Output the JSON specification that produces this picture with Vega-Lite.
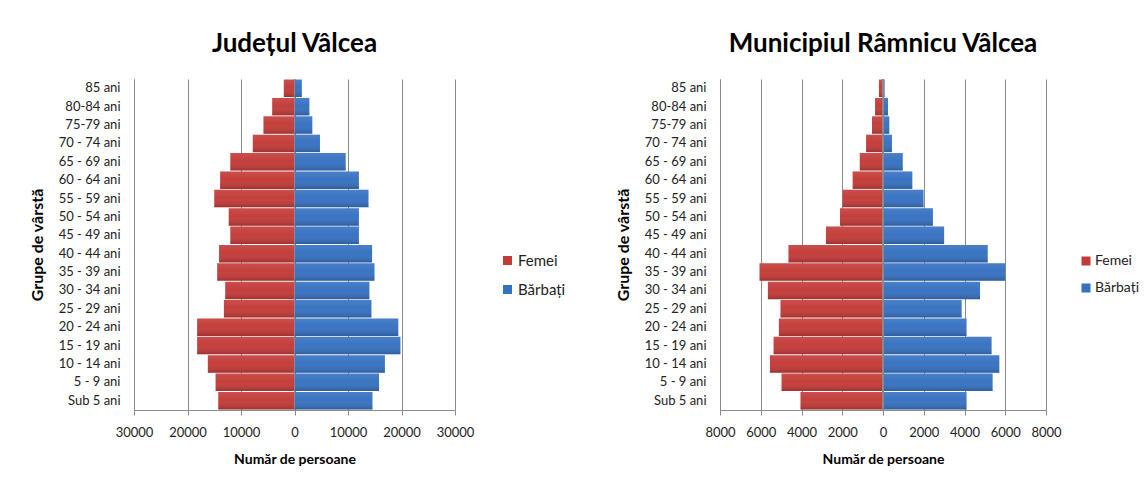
{
  "$schema": "https://vega.github.io/schema/vega-lite/v6.json",
  "background": "white",
  "padding": {"left": 29, "top": 30, "right": 0, "bottom": 0},
  "spacing": 49,
  "config": {
    "font": "Lato",
    "view": {"stroke": null},
    "title": {"font": "Lato", "fontSize": 26, "fontWeight": "bold", "color": "#000000", "anchor": "middle", "offset": 22},
    "axis": {"labelFont": "Lato", "labelColor": "#222222", "titleFont": "Lato", "titleColor": "#000000", "titleFontWeight": "bold", "titleFontSize": 14, "domainColor": "#8a8a8a", "tickColor": "#8a8a8a", "gridColor": "#8a8a8a", "gridOpacity": 1, "labelOverlap": false, "labelFlush": false},
    "legend": {"labelFont": "Lato", "labelFontSize": 15, "labelColor": "#222222", "symbolType": "square", "symbolSize": 81, "symbolStrokeWidth": 0, "rowPadding": 13, "labelOffset": 3}
  },
  "resolve": {"scale": {"color": "independent", "x": "independent"}, "legend": {"color": "independent"}},
  "datasets": {
    "pop": [
      {"region": "J", "age": "85 ani", "sex": "Femei", "value": -2000},
      {"region": "J", "age": "85 ani", "sex": "Bărbați", "value": 1370},
      {"region": "J", "age": "80-84 ani", "sex": "Femei", "value": -4170},
      {"region": "J", "age": "80-84 ani", "sex": "Bărbați", "value": 2780},
      {"region": "J", "age": "75-79 ani", "sex": "Femei", "value": -5800},
      {"region": "J", "age": "75-79 ani", "sex": "Bărbați", "value": 3330},
      {"region": "J", "age": "70 - 74 ani", "sex": "Femei", "value": -7800},
      {"region": "J", "age": "70 - 74 ani", "sex": "Bărbați", "value": 4760},
      {"region": "J", "age": "65 - 69 ani", "sex": "Femei", "value": -12000},
      {"region": "J", "age": "65 - 69 ani", "sex": "Bărbați", "value": 9570},
      {"region": "J", "age": "60 - 64 ani", "sex": "Femei", "value": -13900},
      {"region": "J", "age": "60 - 64 ani", "sex": "Bărbați", "value": 12040},
      {"region": "J", "age": "55 - 59 ani", "sex": "Femei", "value": -15000},
      {"region": "J", "age": "55 - 59 ani", "sex": "Bărbați", "value": 13830},
      {"region": "J", "age": "50 - 54 ani", "sex": "Femei", "value": -12300},
      {"region": "J", "age": "50 - 54 ani", "sex": "Bărbați", "value": 12040},
      {"region": "J", "age": "45 - 49 ani", "sex": "Femei", "value": -12000},
      {"region": "J", "age": "45 - 49 ani", "sex": "Bărbați", "value": 12040},
      {"region": "J", "age": "40 - 44 ani", "sex": "Femei", "value": -14100},
      {"region": "J", "age": "40 - 44 ani", "sex": "Bărbați", "value": 14500},
      {"region": "J", "age": "35 - 39 ani", "sex": "Femei", "value": -14450},
      {"region": "J", "age": "35 - 39 ani", "sex": "Bărbați", "value": 14950},
      {"region": "J", "age": "30 - 34 ani", "sex": "Femei", "value": -12950},
      {"region": "J", "age": "30 - 34 ani", "sex": "Bărbați", "value": 14000},
      {"region": "J", "age": "25 - 29 ani", "sex": "Femei", "value": -13200},
      {"region": "J", "age": "25 - 29 ani", "sex": "Bărbați", "value": 14380},
      {"region": "J", "age": "20 - 24 ani", "sex": "Femei", "value": -18200},
      {"region": "J", "age": "20 - 24 ani", "sex": "Bărbați", "value": 19400},
      {"region": "J", "age": "15 - 19 ani", "sex": "Femei", "value": -18200},
      {"region": "J", "age": "15 - 19 ani", "sex": "Bărbați", "value": 19800},
      {"region": "J", "age": "10 - 14 ani", "sex": "Femei", "value": -16200},
      {"region": "J", "age": "10 - 14 ani", "sex": "Bărbați", "value": 16900},
      {"region": "J", "age": "5 - 9 ani", "sex": "Femei", "value": -14750},
      {"region": "J", "age": "5 - 9 ani", "sex": "Bărbați", "value": 15800},
      {"region": "J", "age": "Sub 5 ani", "sex": "Femei", "value": -14250},
      {"region": "J", "age": "Sub 5 ani", "sex": "Bărbați", "value": 14570},
      {"region": "M", "age": "85 ani", "sex": "Femei", "value": -200},
      {"region": "M", "age": "85 ani", "sex": "Bărbați", "value": 80},
      {"region": "M", "age": "80-84 ani", "sex": "Femei", "value": -390},
      {"region": "M", "age": "80-84 ani", "sex": "Bărbați", "value": 245},
      {"region": "M", "age": "75-79 ani", "sex": "Femei", "value": -540},
      {"region": "M", "age": "75-79 ani", "sex": "Bărbați", "value": 310},
      {"region": "M", "age": "70 - 74 ani", "sex": "Femei", "value": -830},
      {"region": "M", "age": "70 - 74 ani", "sex": "Bărbați", "value": 440},
      {"region": "M", "age": "65 - 69 ani", "sex": "Femei", "value": -1140},
      {"region": "M", "age": "65 - 69 ani", "sex": "Bărbați", "value": 970},
      {"region": "M", "age": "60 - 64 ani", "sex": "Femei", "value": -1490},
      {"region": "M", "age": "60 - 64 ani", "sex": "Bărbați", "value": 1440},
      {"region": "M", "age": "55 - 59 ani", "sex": "Femei", "value": -1980},
      {"region": "M", "age": "55 - 59 ani", "sex": "Bărbați", "value": 1990},
      {"region": "M", "age": "50 - 54 ani", "sex": "Femei", "value": -2110},
      {"region": "M", "age": "50 - 54 ani", "sex": "Bărbați", "value": 2450},
      {"region": "M", "age": "45 - 49 ani", "sex": "Femei", "value": -2800},
      {"region": "M", "age": "45 - 49 ani", "sex": "Bărbați", "value": 3000},
      {"region": "M", "age": "40 - 44 ani", "sex": "Femei", "value": -4640},
      {"region": "M", "age": "40 - 44 ani", "sex": "Bărbați", "value": 5140},
      {"region": "M", "age": "35 - 39 ani", "sex": "Femei", "value": -6060},
      {"region": "M", "age": "35 - 39 ani", "sex": "Bărbați", "value": 6000},
      {"region": "M", "age": "30 - 34 ani", "sex": "Femei", "value": -5650},
      {"region": "M", "age": "30 - 34 ani", "sex": "Bărbați", "value": 4760},
      {"region": "M", "age": "25 - 29 ani", "sex": "Femei", "value": -5030},
      {"region": "M", "age": "25 - 29 ani", "sex": "Bărbați", "value": 3860},
      {"region": "M", "age": "20 - 24 ani", "sex": "Femei", "value": -5110},
      {"region": "M", "age": "20 - 24 ani", "sex": "Bărbați", "value": 4100},
      {"region": "M", "age": "15 - 19 ani", "sex": "Femei", "value": -5370},
      {"region": "M", "age": "15 - 19 ani", "sex": "Bărbați", "value": 5330},
      {"region": "M", "age": "10 - 14 ani", "sex": "Femei", "value": -5550},
      {"region": "M", "age": "10 - 14 ani", "sex": "Bărbați", "value": 5710},
      {"region": "M", "age": "5 - 9 ani", "sex": "Femei", "value": -4980},
      {"region": "M", "age": "5 - 9 ani", "sex": "Bărbați", "value": 5380},
      {"region": "M", "age": "Sub 5 ani", "sex": "Femei", "value": -4050},
      {"region": "M", "age": "Sub 5 ani", "sex": "Bărbați", "value": 4100}
    ]
  },
  "hconcat": [
    {
      "title": {"text": "Județul Vâlcea"},
      "width": 321,
      "height": 331,
      "data": {"name": "pop"},
      "transform": [{"filter": "datum.region === 'J'"}],
      "layer": [
        {
          "mark": {"type": "bar"},
          "encoding": {
            "y": {"field": "age", "type": "nominal", "sort": ["85 ani", "80-84 ani", "75-79 ani", "70 - 74 ani", "65 - 69 ani", "60 - 64 ani", "55 - 59 ani", "50 - 54 ani", "45 - 49 ani", "40 - 44 ani", "35 - 39 ani", "30 - 34 ani", "25 - 29 ani", "20 - 24 ani", "15 - 19 ani", "10 - 14 ani", "5 - 9 ani", "Sub 5 ani"], "scale": {"paddingInner": 0.05, "paddingOuter": 0.03}, "axis": {"title": "Grupe de vârstă", "ticks": false, "labelPadding": 14, "labelFontSize": 13, "titlePadding": 13, "titleFontSize": 16}},
            "x": {"field": "value", "type": "quantitative", "scale": {"domain": [-30000, 30000], "nice": false}, "axis": {"values": [-30000, -20000, -10000, 0, 10000, 20000, 30000], "labelExpr": "abs(datum.value)", "title": "Număr de persoane", "grid": true, "tickSize": 5, "labelPadding": 11, "labelFontSize": 13, "titlePadding": 13}},
            "color": {"field": "sex", "type": "nominal", "scale": {"domain": ["Femei", "Bărbați"], "range": ["#C33B38", "#3671C1"]}, "legend": {"title": null, "orient": "none", "legendX": 366, "legendY": 174}}
          }
        },
        {
          "mark": {"type": "bar", "fill": {"gradient": "linear", "x1": 0, "y1": 0, "x2": 0, "y2": 1, "stops": [{"offset": 0, "color": "rgba(255,255,255,0.10)"}, {"offset": 0.45, "color": "rgba(255,255,255,0.02)"}, {"offset": 1, "color": "rgba(0,0,0,0.18)"}]}},
          "encoding": {
            "y": {"field": "age", "type": "nominal", "sort": ["85 ani", "80-84 ani", "75-79 ani", "70 - 74 ani", "65 - 69 ani", "60 - 64 ani", "55 - 59 ani", "50 - 54 ani", "45 - 49 ani", "40 - 44 ani", "35 - 39 ani", "30 - 34 ani", "25 - 29 ani", "20 - 24 ani", "15 - 19 ani", "10 - 14 ani", "5 - 9 ani", "Sub 5 ani"]},
            "x": {"field": "value", "type": "quantitative"}
          }
        },
        {
          "mark": {"type": "rule", "color": "#8a8a8a", "strokeWidth": 1},
          "encoding": {"x": {"datum": 0}}
        }
      ]
    },
    {
      "title": {"text": "Municipiul Râmnicu Vâlcea"},
      "width": 326,
      "height": 331,
      "data": {"name": "pop"},
      "transform": [{"filter": "datum.region === 'M'"}],
      "layer": [
        {
          "mark": {"type": "bar"},
          "encoding": {
            "y": {"field": "age", "type": "nominal", "sort": ["85 ani", "80-84 ani", "75-79 ani", "70 - 74 ani", "65 - 69 ani", "60 - 64 ani", "55 - 59 ani", "50 - 54 ani", "45 - 49 ani", "40 - 44 ani", "35 - 39 ani", "30 - 34 ani", "25 - 29 ani", "20 - 24 ani", "15 - 19 ani", "10 - 14 ani", "5 - 9 ani", "Sub 5 ani"], "scale": {"paddingInner": 0.05, "paddingOuter": 0.03}, "axis": {"title": "Grupe de vârstă", "ticks": false, "labelPadding": 14, "labelFontSize": 13, "titlePadding": 13, "titleFontSize": 16}},
            "x": {"field": "value", "type": "quantitative", "scale": {"domain": [-8000, 8000], "nice": false}, "axis": {"values": [-8000, -6000, -4000, -2000, 0, 2000, 4000, 6000, 8000], "labelExpr": "abs(datum.value)", "title": "Număr de persoane", "grid": true, "tickSize": 5, "labelPadding": 11, "labelFontSize": 13, "titlePadding": 13}},
            "color": {"field": "sex", "type": "nominal", "scale": {"domain": ["Femei", "Bărbați"], "range": ["#C33B38", "#3671C1"]}, "legend": {"title": null, "orient": "none", "legendX": 359, "legendY": 175, "labelFontSize": 14, "labelOffset": 2}}
          }
        },
        {
          "mark": {"type": "bar", "fill": {"gradient": "linear", "x1": 0, "y1": 0, "x2": 0, "y2": 1, "stops": [{"offset": 0, "color": "rgba(255,255,255,0.10)"}, {"offset": 0.45, "color": "rgba(255,255,255,0.02)"}, {"offset": 1, "color": "rgba(0,0,0,0.18)"}]}},
          "encoding": {
            "y": {"field": "age", "type": "nominal", "sort": ["85 ani", "80-84 ani", "75-79 ani", "70 - 74 ani", "65 - 69 ani", "60 - 64 ani", "55 - 59 ani", "50 - 54 ani", "45 - 49 ani", "40 - 44 ani", "35 - 39 ani", "30 - 34 ani", "25 - 29 ani", "20 - 24 ani", "15 - 19 ani", "10 - 14 ani", "5 - 9 ani", "Sub 5 ani"]},
            "x": {"field": "value", "type": "quantitative"}
          }
        },
        {
          "mark": {"type": "rule", "color": "#8a8a8a", "strokeWidth": 1},
          "encoding": {"x": {"datum": 0}}
        }
      ]
    }
  ]
}
